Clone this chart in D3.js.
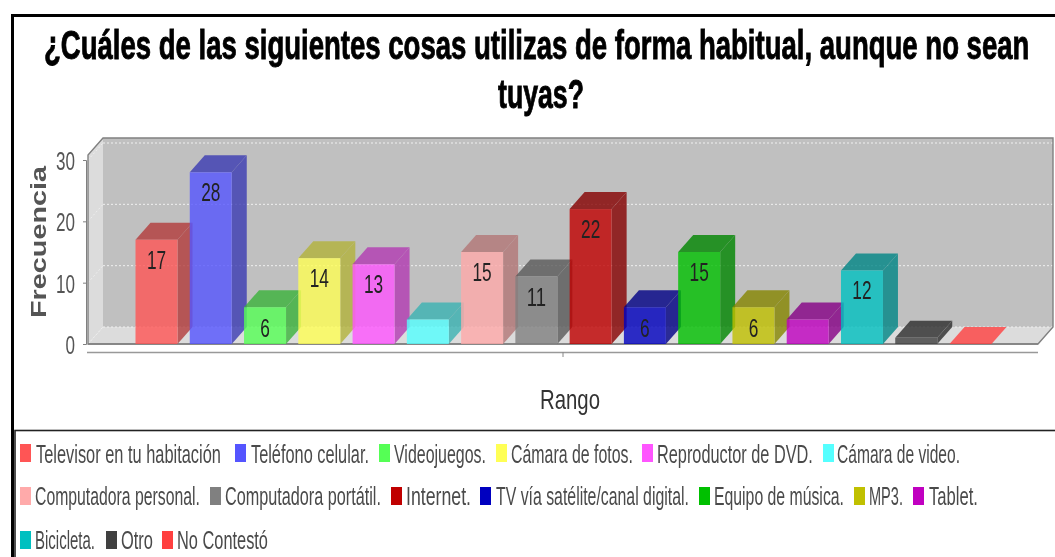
<!DOCTYPE html>
<html><head><meta charset="utf-8">
<script src="https://cdn.jsdelivr.net/npm/d3@7"></script>
<style>html,body{margin:0;padding:0;background:#fff;overflow:hidden}svg{display:block;filter:blur(.35px)}text{font-family:"Liberation Sans",sans-serif}</style>
</head><body><svg id="c" width="1055" height="557"></svg>
<script>
const categories=["Televisor en tu habitación","Teléfono celular.","Videojuegos.","Cámara de fotos.","Reproductor de DVD.","Cámara de video.","Computadora personal.","Computadora portátil.","Internet.","TV vía satélite/canal digital.","Equipo de música.","MP3.","Tablet.","Bicicleta.","Otro","No Contestó"];
const values=[17,28,6,14,13,4,15,11,22,6,15,6,4,12,1,0];
const labelled=[true,true,true,true,true,false,true,true,true,true,true,true,false,true,false,false];
const colors=["#ff5555","#5555ff","#55ff55","#ffff55","#ff55ff","#55ffff","#ffaaaa","#808080","#c00000","#0000c0","#00c000","#c0c000","#c000c0","#00c0c0","#404040","#ff4040"];
const yTicks=[0,10,20,30];
const titleLines=["¿Cuáles de las siguientes cosas utilizas de forma habitual, aunque no sean","tuyas?"];
const legendRows=[[0,1,2,3,4,5],[6,7,8,9,10,11,12],[13,14,15]];
const legendSwatchX=[[20,235,379,496,642,823],[20,210,391,480,699,854,913],[20,106,162]];
const legendTextX=[[36,251,394,511,657,837],[35,225,406,496,714,869,929],[35,121,177]];
const legendTextEnd=[[221,369,486,633,813,960],[200,381,471,689,844,903,978],[95,153,268]];

const svg=d3.select("#c");
const dx=15,dy=17;
const x=d3.scaleBand().domain(categories).range([135.5,991.5]).paddingInner(.226).paddingOuter(0);
const y=d3.scaleLinear().domain([0,30]).range([344,160]);
const L=88,R=1038,T=155;

// squeezed text: a real text scaled horizontally to a target width
function stext(parent,t,x0,x1,yy,size,opt={}){
  const e=parent.append("text").attr("font-size",size).attr("fill",opt.fill||"#333")
    .attr("font-weight",opt.weight||"normal").text(t);
  if(opt.stroke) e.attr("stroke",opt.fill).attr("stroke-width",opt.stroke);
  const w=e.node().getComputedTextLength();
  e.attr("transform",`translate(${x0},${yy}) scale(${(x1-x0)/w},1)`);
  return e;
}
// outer frame
svg.append("rect").attr("x",12.5).attr("y",15.5).attr("width",1060).attr("height",560).attr("fill","#fff").attr("stroke","#000").attr("stroke-width",3);

// title
stext(svg,titleLines[0],44,1030,59,41,{fill:"#000",weight:"bold",stroke:.9});
stext(svg,titleLines[1],498,584,108,41,{fill:"#000",weight:"bold",stroke:.9});

const g=svg.append("g");
// walls
g.append("path").attr("d",`M${L},${T}L${L+dx},${T-dy}V${344-dy}L${L},344Z`).attr("fill","#dcdcdc");
g.append("path").attr("d",`M${L},344L${L+dx},${344-dy}H${R+dx}L${R},344Z`).attr("fill","#dcdcdc");
g.append("rect").attr("x",L+dx).attr("y",T-dy).attr("width",R-L).attr("height",344-T).attr("fill","#c0c0c0");
// grid
yTicks.forEach(v=>{
  const yy=y(v)-dy;
  g.append("path").attr("d",`M${L},${y(v)}L${L+dx},${yy}`).attr("stroke","#eee").attr("stroke-dasharray","2,2").attr("fill","none");
  g.append("line").attr("x1",L+dx).attr("x2",R+dx).attr("y1",yy).attr("y2",yy).attr("stroke","#f0f0f0").attr("stroke-width",1).attr("stroke-dasharray","2,2");
});
// wall outline
g.append("path").attr("d",`M${L},344V${T}L${L+dx},${T-dy}H${R+dx}V${344-dy}L${R},344Z`).attr("fill","none").attr("stroke","#808080").attr("stroke-width",1.4);
g.append("line").attr("x1",L).attr("x2",R).attr("y1",344).attr("y2",344).attr("stroke","#808080").attr("stroke-width",1.6);

// bars
function dark(c){const r=d3.rgb(c);return d3.rgb(r.r*.7,r.g*.7,r.b*.7);}
categories.forEach((c,i)=>{
  const x0=x(c),w=x.bandwidth(),top=y(values[i]),base=y(0),col=colors[i];
  const b=g.append("g").attr("opacity",.8);
  if(values[i]>0){
    b.append("path").attr("d",`M${x0+w},${base}V${top}L${x0+w+dx},${top-dy}V${base-dy}Z`).attr("fill",dark(col));
    b.append("path").attr("d",`M${x0},${top}L${x0+dx},${top-dy}H${x0+w+dx}L${x0+w},${top}Z`).attr("fill",dark(col));
    b.append("rect").attr("x",x0).attr("y",top).attr("width",w).attr("height",base-top).attr("fill",col);
  } else {
    b.append("path").attr("d",`M${x0},${base}L${x0+dx},${base-dy}H${x0+w+dx}L${x0+w},${base}Z`).attr("fill",col);
  }
});
// value labels
categories.forEach((c,i)=>{
  if(!labelled[i])return;
  const cx=x(c)+x.bandwidth()/2, s=String(values[i]), hw=s.length*4.8;
  const by=values[i]<8?y(0)-7:y(values[i])+29;
  stext(svg,s,cx-hw,cx+hw,by,25,{fill:"#222"});
});

// axis
const ax=d3.axisLeft(y).tickValues(yTicks).tickSize(3).tickPadding(3);
const axg=svg.append("g").attr("transform",`translate(${L-2},0)`).call(ax);
axg.select(".domain").attr("stroke","#808080");
axg.selectAll(".tick line").attr("stroke","#808080");
axg.selectAll(".tick text").attr("font-size",26).attr("fill","#555").attr("font-family",'"Liberation Sans"').each(function(d){
  const el=d3.select(this), w=this.getComputedTextLength(), tw=String(d).length*9.5;
  el.attr("x",null).attr("dy",null).attr("text-anchor","start")
    .attr("transform",`translate(${-(tw+11)},9.5) scale(${tw/w},1)`);
});
// y title
svg.append("text").attr("transform","translate(46,318) rotate(-90)").attr("font-size",22).attr("font-weight","bold").attr("fill","#555").attr("textLength",152).attr("lengthAdjust","spacingAndGlyphs").text("Frecuencia");
// lower axis
svg.append("line").attr("x1",87).attr("x2",1038).attr("y1",352.5).attr("y2",352.5).attr("stroke","#999").attr("stroke-width",1.5);
svg.append("line").attr("x1",563).attr("x2",563).attr("y1",352).attr("y2",357).attr("stroke","#888");
stext(svg,"Rango",540,600,409,28,{fill:"#333"});

// legend
svg.append("rect").attr("x",15).attr("y",430.5).attr("width",1060).attr("height",140).attr("fill","#fff").attr("stroke","#222").attr("stroke-width",1.6);
const swatchY=[444,487,531], baseY=[463,505,549];
legendRows.forEach((row,r)=>row.forEach((idx,k)=>{
  svg.append("rect").attr("x",legendSwatchX[r][k]).attr("y",swatchY[r]).attr("width",11).attr("height",18).attr("fill",colors[idx]);
  stext(svg,categories[idx],legendTextX[r][k],legendTextEnd[r][k],baseY[r],25,{fill:"#4a4a4a"});
}));
</script></body></html>
